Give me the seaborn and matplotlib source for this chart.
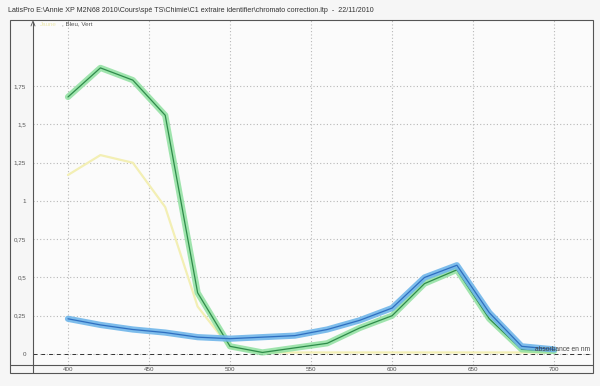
import matplotlib
matplotlib.use("Agg")
import matplotlib.pyplot as plt
from matplotlib.lines import Line2D
from matplotlib.patches import Rectangle
import seaborn as sns
import pandas as pd

sns.set_theme(style="white")
plt.rcParams['font.family'] = ['Liberation Sans', 'DejaVu Sans']

# longueurs d'onde (nm)
wavelength = [400, 420, 440, 460, 480, 500, 520, 540, 560, 580, 600, 620, 640, 660, 680, 700]
jaune = [1.17, 1.30, 1.25, 0.96, 0.31, 0.04, 0.01, 0.01, 0.01, 0.01, 0.01, 0.01, 0.01, 0.01, 0.01, 0.01]
bleu = [0.23, 0.19, 0.16, 0.14, 0.11, 0.10, 0.11, 0.12, 0.16, 0.22, 0.30, 0.50, 0.58, 0.27, 0.05, 0.03]
vert = [1.68, 1.87, 1.79, 1.56, 0.40, 0.05, 0.01, 0.04, 0.07, 0.17, 0.25, 0.46, 0.55, 0.23, 0.03, 0.02]

x_ticks = [400, 450, 500, 550, 600, 650, 700]
y_ticks = [0, 0.25, 0.5, 0.75, 1, 1.25, 1.5, 1.75]
y_labels = ["0", "0,25", "0,5", "0,75", "1", "1,25", "1,5", "1,75"]

df = pd.DataFrame({"nm": wavelength, "Jaune": jaune, "Bleu": bleu, "Vert": vert})

W, H = 600, 386
fig = plt.figure(figsize=(6, 3.86), dpi=100)
fig.patch.set_facecolor("#f6f6f6")


def fx(px):
    return px / W


def fy(py):
    return 1 - py / H


ax = fig.add_axes([fx(33), fy(365), (593 - 33) / W, (365 - 20) / H])
ax.set_facecolor("#fbfbfb")
ax.set_xlim(378.4, 724)
ax.set_ylim(-0.072, 2.183)
ax.grid(True, ls=(0, (1, 2)), color="#b8b8b8", lw=0.8)
for s in ax.spines.values():
    s.set_visible(False)

ax.axhline(0, color="#333333", lw=0.7, ls=(0, (4, 4)), zorder=1)

# jaune
sns.lineplot(data=df, x="nm", y="Jaune", ax=ax, color="#f3efb4", lw=1.6, zorder=2)
# vert : bande + trait
sns.lineplot(data=df, x="nm", y="Vert", ax=ax, color="#8fe0a0", lw=4.5, alpha=0.85, zorder=3)
sns.lineplot(data=df, x="nm", y="Vert", ax=ax, color="#2e8b4a", lw=0.9, zorder=4)
# bleu : bande + trait
sns.lineplot(data=df, x="nm", y="Bleu", ax=ax, color="#6fb6ea", lw=4.5, alpha=0.9, zorder=5)
sns.lineplot(data=df, x="nm", y="Bleu", ax=ax, color="#2f6fc0", lw=0.9, zorder=6)

ax.set_xticks(x_ticks)
ax.set_xticklabels([str(t) for t in x_ticks])
ax.set_yticks(y_ticks)
ax.set_yticklabels(y_labels)
ax.tick_params(axis="both", length=0, labelsize=4.5, colors="#555555")
ax.tick_params(axis="x", pad=1.5)
ax.tick_params(axis="y", pad=5)
ax.set_xlabel("")
ax.set_ylabel("")

ax.text(0.995, 0.035, "absorbance en nm", transform=ax.transAxes, ha="right",
        va="bottom", fontsize=4.8, color="#444444", zorder=10)
ax.text(0.012, 0.995, "Jaune", transform=ax.transAxes, ha="left", va="top",
        fontsize=4.5, color="#ece8b0", zorder=10)
ax.text(0.052, 0.995, ", Bleu, Vert", transform=ax.transAxes, ha="left", va="top",
        fontsize=4.5, color="#555555", zorder=10)

# cadre et axes
fig.add_artist(Rectangle((fx(10), fy(373)), (593 - 10) / W, (373 - 20) / H,
                         transform=fig.transFigure, fill=False, lw=0.8, ec="#555555"))
fig.add_artist(Line2D([fx(33), fx(33)], [fy(373), fy(22)], transform=fig.transFigure,
                      color="#555555", lw=0.8))
fig.add_artist(Line2D([fx(10), fx(593)], [fy(365), fy(365)], transform=fig.transFigure,
                      color="#555555", lw=0.8))
fig.add_artist(Line2D([fx(31), fx(33), fx(35)], [fy(26), fy(21), fy(26)],
                      transform=fig.transFigure, color="#555555", lw=0.6))

fig.text(fx(8), fy(11), "LatisPro E:\\Annie XP M2N68 2010\\Cours\\spé TS\\Chimie\\C1 extraire identifier\\chromato correction.ltp  -  22/11/2010",
         ha="left", va="center", fontsize=5.1, color="#333333")

fig.savefig("out.png", dpi=100, facecolor=fig.get_facecolor())
